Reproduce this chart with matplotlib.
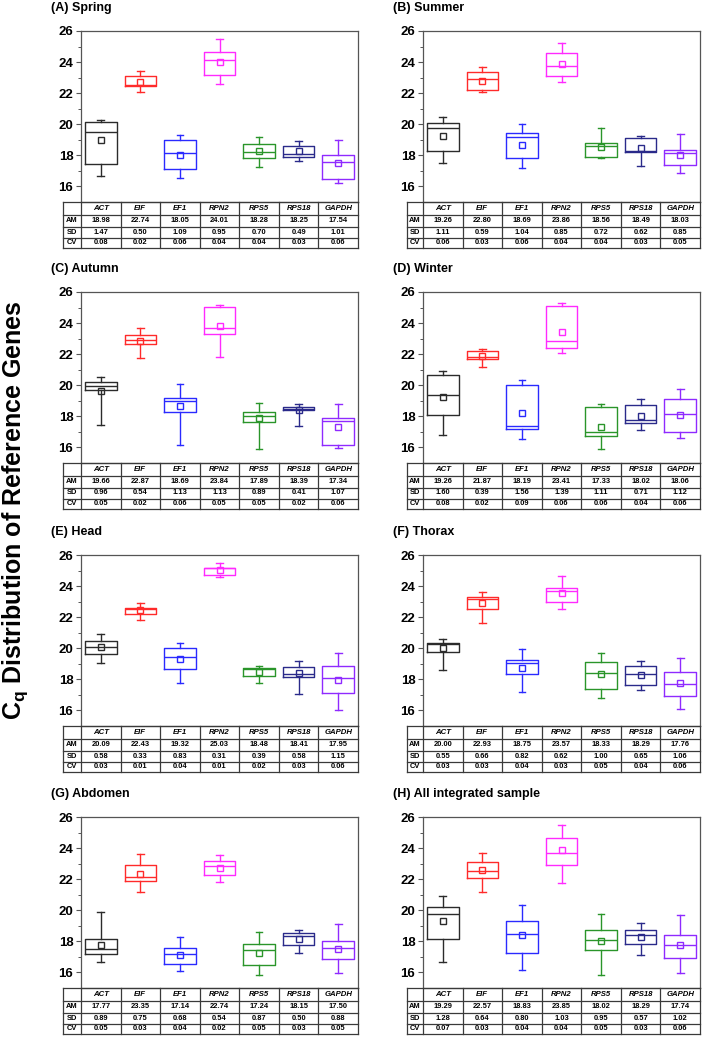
import matplotlib
matplotlib.use('Agg')
import matplotlib.pyplot as plt
from matplotlib.ticker import MultipleLocator

plt.rcParams['font.family'] = ['Liberation Sans', 'DejaVu Sans']
plt.rcParams['mathtext.fontset'] = 'custom'
plt.rcParams['mathtext.rm'] = 'Liberation Sans'
plt.rcParams['mathtext.bf'] = 'Liberation Sans:bold'
plt.rcParams['mathtext.it'] = 'Liberation Sans:italic'

# ---------------- data ----------------
genes = ['ACT', 'EIF', 'EF1', 'RPN2', 'RPS5', 'RPS18', 'GAPDH']
gene_colors = ['#2b2b2b', '#ff2a2a', '#2a2aff', '#ff2aff', '#2a952a', '#2a2a8a', '#8f2aff']
panel_titles = ['(A) Spring', '(B) Summer', '(C) Autumn', '(D) Winter',
                '(E) Head', '(F) Thorax', '(G) Abdomen', '(H) All integrated sample']
row_labels = ['AM', 'SD', 'CV']

A_lo  = [16.69, 22.06, 16.56, 22.56, 17.27, 17.61, 16.24]
A_q1  = [17.42, 22.47, 17.14, 23.20, 17.81, 17.89, 16.45]
A_med = [19.51, 22.53, 18.17, 24.11, 18.24, 18.11, 17.59]
A_q3  = [20.15, 23.12, 19.01, 24.62, 18.73, 18.58, 18.02]
A_hi  = [20.30, 23.44, 19.31, 25.46, 19.20, 18.92, 19.01]
A_am  = [18.98, 22.74, 18.05, 24.01, 18.28, 18.25, 17.54]
A_sd  = [1.47, 0.50, 1.09, 0.95, 0.70, 0.49, 1.01]
A_cv  = [0.08, 0.02, 0.06, 0.04, 0.04, 0.03, 0.06]

B_lo  = [17.54, 22.08, 17.20, 22.72, 17.80, 17.33, 16.88]
B_q1  = [18.29, 22.23, 17.84, 23.11, 17.90, 18.23, 17.39]
B_med = [19.77, 22.90, 19.21, 23.73, 18.59, 18.27, 18.14]
B_q3  = [20.09, 23.37, 19.43, 24.59, 18.78, 19.13, 18.33]
B_hi  = [20.48, 23.67, 20.00, 25.23, 19.79, 19.23, 19.40]
B_am  = [19.26, 22.80, 18.69, 23.86, 18.56, 18.49, 18.03]
B_sd  = [1.11, 0.59, 1.04, 0.85, 0.72, 0.62, 0.85]
B_cv  = [0.06, 0.03, 0.06, 0.04, 0.04, 0.03, 0.05]

C_lo  = [17.44, 21.73, 16.13, 21.80, 15.87, 17.35, 15.96]
C_q1  = [19.72, 22.65, 18.29, 23.28, 17.66, 18.40, 16.13]
C_med = [19.93, 22.94, 19.01, 23.71, 18.00, 18.50, 17.70]
C_q3  = [20.20, 23.22, 19.18, 25.02, 18.27, 18.60, 17.87]
C_hi  = [20.56, 23.71, 20.06, 25.19, 18.85, 18.78, 18.78]
C_am  = [19.66, 22.87, 18.69, 23.84, 17.89, 18.39, 17.34]
C_sd  = [0.96, 0.54, 1.13, 1.13, 0.89, 0.41, 1.07]
C_cv  = [0.05, 0.02, 0.06, 0.05, 0.05, 0.02, 0.06]

D_lo  = [16.81, 21.19, 16.55, 22.08, 15.89, 17.12, 16.62]
D_q1  = [18.10, 21.66, 17.21, 22.40, 16.72, 17.59, 17.00]
D_med = [19.39, 21.81, 17.36, 22.82, 17.02, 17.76, 18.12]
D_q3  = [20.68, 22.19, 20.00, 25.11, 18.63, 18.75, 19.09]
D_hi  = [20.94, 22.33, 20.33, 25.32, 18.82, 19.14, 19.73]
D_am  = [19.26, 21.87, 18.19, 23.41, 17.33, 18.02, 18.06]
D_sd  = [1.60, 0.39, 1.56, 1.39, 1.11, 0.71, 1.12]
D_cv  = [0.08, 0.02, 0.09, 0.06, 0.06, 0.04, 0.06]

E_lo  = [19.06, 21.82, 17.75, 24.56, 17.77, 17.08, 16.02]
E_q1  = [19.60, 22.19, 18.69, 24.69, 18.20, 18.13, 17.10]
E_med = [20.09, 22.51, 19.47, 25.14, 18.65, 18.37, 18.07]
E_q3  = [20.48, 22.61, 20.03, 25.18, 18.72, 18.80, 18.87]
E_hi  = [20.94, 22.92, 20.31, 25.48, 18.84, 19.19, 19.69]
E_am  = [20.09, 22.43, 19.32, 25.03, 18.48, 18.41, 17.95]
E_sd  = [0.58, 0.33, 0.83, 0.31, 0.39, 0.58, 1.15]
E_cv  = [0.03, 0.01, 0.04, 0.01, 0.02, 0.03, 0.06]

F_lo  = [18.61, 21.63, 17.20, 22.54, 16.83, 17.33, 16.11]
F_q1  = [19.75, 22.53, 18.36, 22.96, 17.39, 17.61, 16.92]
F_med = [20.26, 23.17, 19.04, 23.71, 18.44, 18.33, 17.67]
F_q3  = [20.37, 23.32, 19.23, 23.90, 19.10, 18.85, 18.46]
F_hi  = [20.58, 23.64, 19.98, 24.63, 19.70, 19.19, 19.36]
F_am  = [20.00, 22.93, 18.75, 23.57, 18.33, 18.29, 17.76]
F_sd  = [0.55, 0.66, 0.82, 0.62, 1.00, 0.65, 1.06]
F_cv  = [0.03, 0.03, 0.04, 0.03, 0.05, 0.04, 0.06]

G_lo  = [16.69, 21.19, 16.11, 21.80, 15.85, 17.27, 15.94]
G_q1  = [17.21, 21.88, 16.56, 22.29, 16.50, 17.75, 16.86]
G_med = [17.49, 22.14, 17.16, 22.83, 17.47, 18.33, 17.55]
G_q3  = [18.16, 22.92, 17.55, 23.16, 17.83, 18.56, 18.03]
G_hi  = [19.88, 23.65, 18.28, 23.54, 18.61, 18.74, 19.10]
G_am  = [17.77, 23.35, 17.14, 22.74, 17.24, 18.15, 17.50]
G_sd  = [0.89, 0.75, 0.68, 0.54, 0.87, 0.50, 0.88]
G_cv  = [0.05, 0.03, 0.04, 0.02, 0.05, 0.03, 0.05]

H_lo  = [16.69, 21.16, 16.13, 21.78, 15.85, 17.11, 15.96]
H_q1  = [18.16, 22.08, 17.28, 22.92, 17.46, 17.84, 16.96]
H_med = [19.79, 22.55, 18.46, 23.69, 18.10, 18.38, 17.76]
H_q3  = [20.22, 23.09, 19.30, 24.65, 18.72, 18.72, 18.40]
H_hi  = [20.95, 23.69, 20.35, 25.46, 19.73, 19.21, 19.70]
H_am  = [19.29, 22.57, 18.83, 23.85, 18.02, 18.29, 17.74]
H_sd  = [1.28, 0.64, 0.80, 1.03, 0.95, 0.57, 1.02]
H_cv  = [0.07, 0.03, 0.04, 0.04, 0.05, 0.03, 0.06]

# mean markers where the plotted square differs from the printed AM value
mean_marker_override = {(6, 1): 22.34, (7, 2): 18.40}

panels = [
    (A_lo, A_q1, A_med, A_q3, A_hi, A_am, A_sd, A_cv),
    (B_lo, B_q1, B_med, B_q3, B_hi, B_am, B_sd, B_cv),
    (C_lo, C_q1, C_med, C_q3, C_hi, C_am, C_sd, C_cv),
    (D_lo, D_q1, D_med, D_q3, D_hi, D_am, D_sd, D_cv),
    (E_lo, E_q1, E_med, E_q3, E_hi, E_am, E_sd, E_cv),
    (F_lo, F_q1, F_med, F_q3, F_hi, F_am, F_sd, F_cv),
    (G_lo, G_q1, G_med, G_q3, G_hi, G_am, G_sd, G_cv),
    (H_lo, H_q1, H_med, H_q3, H_hi, H_am, H_sd, H_cv),
]

# ---------------- layout ----------------
W, Hh = 705, 1038
fig = plt.figure(figsize=(W / 100, Hh / 100), dpi=100)

def px_axes(x, y, w, h):
    return fig.add_axes([x / W, 1 - (y + h) / Hh, w / W, h / Hh])

col_x = [81, 423]
lab_w = [18, 16]
ax_w = 277
tops = [31, 292, 555, 817]
ax_h = 171
tab_h = 46
row_edges = [0, 13, 24.5, 35.5, 46]
frame_c = '#555555'
line_c = '#3a3a3a'

for i, (lo, q1, med, q3, hi, am, sd, cv) in enumerate(panels):
    r, c = divmod(i, 2)
    x0, y0 = col_x[c], tops[r]
    ax = px_axes(x0, y0, ax_w, ax_h)
    stats = []
    for g in range(len(genes)):
        mean_v = mean_marker_override.get((i, g), am[g])
        stats.append(dict(whislo=lo[g], q1=q1[g], med=med[g], q3=q3[g],
                          whishi=hi[g], mean=mean_v, fliers=[]))
    res = ax.bxp(stats, positions=list(range(1, 8)), widths=0.8,
                 showmeans=True, showfliers=False, capwidths=0.17,
                 manage_ticks=False,
                 meanprops=dict(marker='s', markerfacecolor='none',
                                markersize=4.6, markeredgewidth=1.0))
    for g, col in enumerate(gene_colors):
        res['boxes'][g].set(color=col, linewidth=1.0)
        res['medians'][g].set(color=col, linewidth=1.0)
        for k in (2 * g, 2 * g + 1):
            res['whiskers'][k].set(color=col, linewidth=1.0)
            res['caps'][k].set(color=col, linewidth=1.0)
        res['means'][g].set(markeredgecolor=col)
    ax.set_xlim(0.5, 7.5)
    ax.set_ylim(15, 26)
    ax.set_yticks([16, 18, 20, 22, 24, 26])
    ax.yaxis.set_minor_locator(MultipleLocator(1))
    ax.set_xticks([])
    ax.tick_params(axis='y', which='major', direction='out', length=3.5,
                   width=0.8, color=frame_c, labelsize=9.5, pad=2)
    ax.tick_params(axis='y', which='minor', direction='out', length=2,
                   width=0.7, color=frame_c)
    for lab in ax.get_yticklabels():
        lab.set_fontweight('bold')
    for sp in ax.spines.values():
        sp.set_color(frame_c)
        sp.set_linewidth(0.9)

    fig.text((x0 - 30) / W, 1 - (y0 - 23) / Hh, panel_titles[i],
             fontsize=9, fontweight='bold', ha='left', va='center')

    # statistics table
    unit = ax_w / 7.0
    xmin = 0.5 - lab_w[c] / unit
    tx = px_axes(x0 - lab_w[c], y0 + ax_h, ax_w + lab_w[c], tab_h)
    tx.set_xlim(xmin, 7.5)
    tx.set_ylim(tab_h, 0)
    tx.axis('off')
    for e in row_edges:
        tx.plot([xmin, 7.5], [e, e], color=line_c, lw=0.9, clip_on=False)
    vx = [xmin] + [0.5 + k for k in range(8)]
    for v in vx:
        tx.plot([v, v], [0, tab_h], color=line_c, lw=0.9, clip_on=False)
    centers = [(row_edges[k] + row_edges[k + 1]) / 2 for k in range(4)]
    for g, name in enumerate(genes):
        tx.text(g + 1, centers[0], name, ha='center', va='center',
                fontsize=5.6, fontweight='bold', fontstyle='italic')
    for k, (lab, vals) in enumerate(zip(row_labels, (am, sd, cv))):
        tx.text((xmin + 0.5) / 2, centers[k + 1], lab, ha='center',
                va='center', fontsize=5.4, fontweight='bold')
        for g, v in enumerate(vals):
            tx.text(g + 1, centers[k + 1], f'{v:.2f}', ha='center',
                    va='center', fontsize=5.4, fontweight='bold')

fig.text(15 / W, 1 - 510 / Hh, r'$\mathbf{C_q}$ Distribution of Reference Genes',
         rotation=90, ha='center', va='center', fontsize=18, fontweight='bold')

fig.savefig('out.png', dpi=100)
